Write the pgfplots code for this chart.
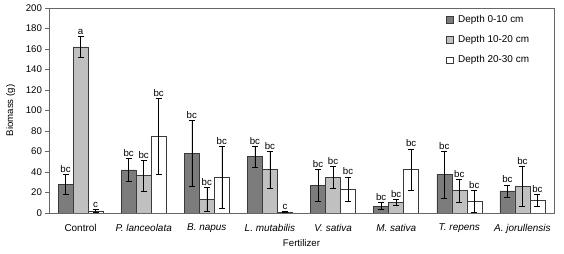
\documentclass[border=0pt]{standalone}
\usepackage{pgfplots}
\usepackage{pgfplotstable}
\pgfplotsset{compat=1.18}
\usepackage{fontspec}
\setmainfont{Liberation Sans}
\definecolor{cdark}{HTML}{7C7C7C}
\definecolor{clight}{HTML}{C0C0C0}
\definecolor{cedge}{HTML}{3A3A3A}

\pgfplotstableread{
x y0 e0 l0 y1 e1 l1 y2 e2 l2
0 28 10 bc 162 10 a 2 1.5 c
1 42 11 bc 36.5 15 bc 75 37 bc
2 58 32 bc 13.3 11.5 bc 35 30 bc
3 55 10 bc 42.5 18 bc 0.8 0.6 c
4 27 16 bc 35 10.5 bc 23.3 12 bc
5 6.8 3.5 bc 10.7 2.7 bc 42.3 20.3 bc
6 37.5 23 bc 21.8 11 bc 11.4 10.7 bc
7 21.5 6 bc 25.8 19.7 bc 12.5 5.5 bc
}\data

\begin{document}
\fontsize{10}{12}\selectfont
\begin{tikzpicture}
\begin{axis}[
  x=63.125bp, y=1.025bp,
  xmin=-0.5, xmax=7.5, ymin=0, ymax=200,
  ybar=0pt, bar width=15bp,
  axis line style={draw=black!60, line width=0.6pt},
  xtick=data,
  xticklabels={Control,\textit{P. lanceolata},\textit{B. napus},\textit{L. mutabilis},\textit{V. sativa},\textit{M. sativa},\textit{T. repens},\textit{A. jorullensis}},
  xtick style={draw=none},
  ytick={0,20,...,200},
  ytick style={draw=black!60},
  tick align=outside,
  tick pos=left,
  major tick length=3.5bp,
  /pgf/number format/assume math mode=true,
  ticklabel style={font=\fontsize{9.7}{11}\selectfont},
  xticklabel style={yshift=-4bp, font=\fontsize{10}{12}\selectfont},
  ylabel={Biomass (g)},
  xlabel={Fertilizer},
  label style={font=\fontsize{9.7}{11}\selectfont},
  ylabel style={yshift=4bp},
  xlabel style={yshift=1bp},
  legend style={at={(0.955,0.975)}, anchor=north east, draw=none, fill=none,
    font=\fontsize{10}{12}\selectfont, row sep=7.5bp, column sep=3bp, inner sep=0pt,
    legend cell align=left},
  legend image code/.code={\draw[#1] (0bp,-3.2bp) rectangle (6.5bp,3.2bp);},
  error bars/y dir=both, error bars/y explicit,
  error bars/error bar style={black, line width=0.6pt},
  error bars/error mark options={rotate=90, mark size=3bp, line width=0.6pt, black},
  point meta=explicit symbolic,
  nodes near coords,
  every node near coord/.append style={font=\fontsize{9.7}{11}\selectfont, inner sep=1.5pt, anchor=south},
]
\addplot[fill=cdark, draw=cedge, line width=0.6pt,
  visualization depends on={\thisrow{e0} \as \err},
  every node near coord/.append style={yshift=\err*1.025bp}]
  table[x=x, y=y0, y error=e0, meta=l0] {\data};
\addplot[fill=clight, draw=cedge, line width=0.6pt,
  visualization depends on={\thisrow{e1} \as \err},
  every node near coord/.append style={yshift=\err*1.025bp}]
  table[x=x, y=y1, y error=e1, meta=l1] {\data};
\addplot[fill=white, draw=cedge, line width=0.6pt,
  visualization depends on={\thisrow{e2} \as \err},
  every node near coord/.append style={yshift=\err*1.025bp}]
  table[x=x, y=y2, y error=e2, meta=l2] {\data};
\legend{Depth 0-10 cm, Depth 10-20 cm, Depth 20-30 cm}
\end{axis}
\pgfresetboundingbox
\path (current axis.south west) ++(-49bp,-41bp) coordinate (bbA);
\path (current axis.north east) ++(10bp,8bp) coordinate (bbB);
\useasboundingbox (bbA) rectangle (bbB);
\end{tikzpicture}
\end{document}
